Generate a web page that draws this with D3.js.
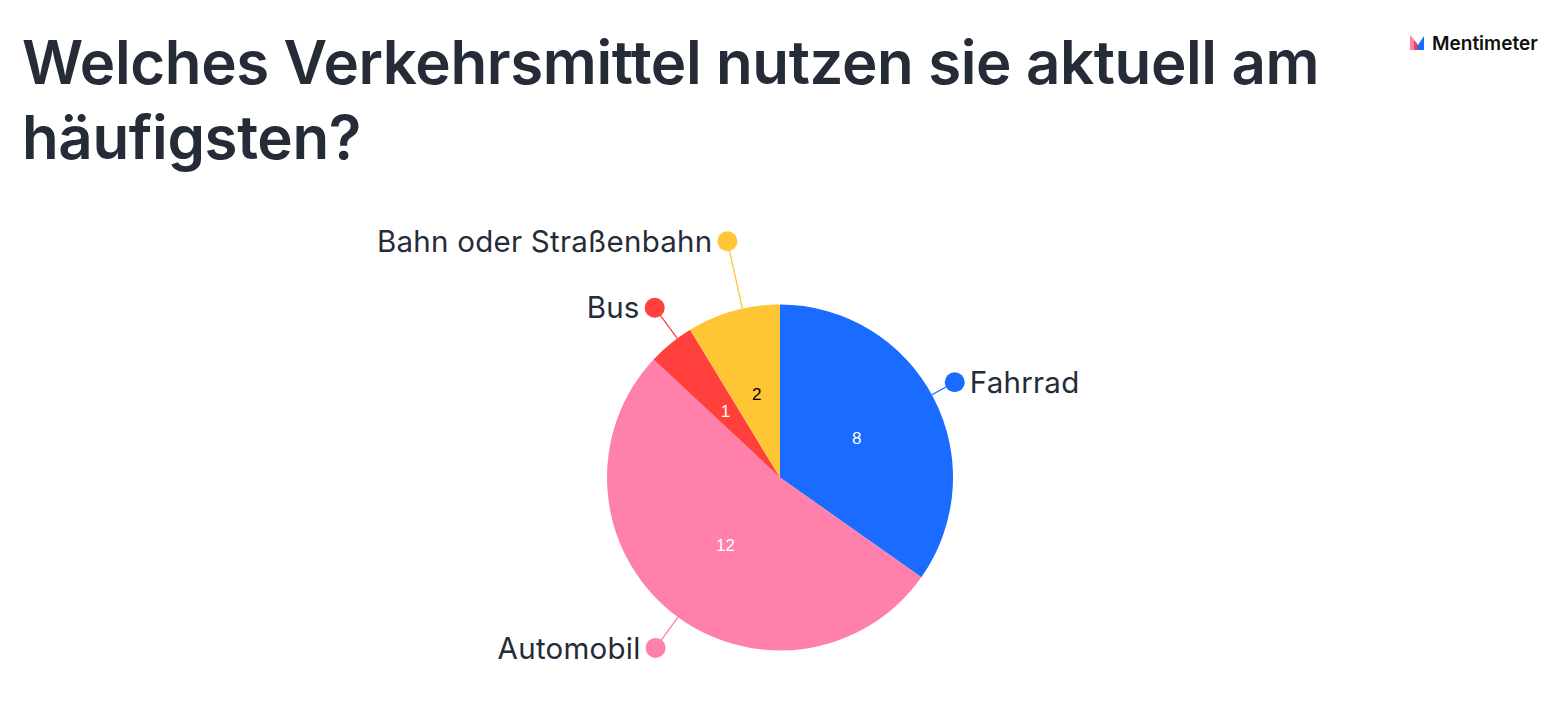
<!DOCTYPE html>
<html><head><meta charset="utf-8">
<script src="https://cdn.jsdelivr.net/npm/d3@7"></script>
<style>html,body{margin:0;padding:0;background:#fff;}svg{display:block;}</style>
</head><body>
<svg id="chart" width="1560" height="708"></svg>
<script>
const titleLines = ["Welches Verkehrsmittel nutzen sie aktuell am", "häufigsten?"];
const categories = ["Fahrrad", "Automobil", "Bus", "Bahn oder Straßenbahn"];
const values = [8, 12, 1, 2];
const colors = ["#196cff", "#ff80ab", "#ff403d", "#ffc535"];
const valueTextColors = ["#ffffff", "#ffffff", "#ffffff", "#000000"];
// label leader layout: angle offset (deg) from slice middle, dot radius
const leaderAngleOffset = [-1.2, -3, 2.7, 3.1];
const leaderRadius = [199, 211, 211, 242];

const svg = d3.select("#chart");
const ink = "#262b38";

svg.append("g").selectAll("text").data(titleLines).join("text")
  .attr("x", 22).attr("y", (d, i) => 84 + i * 75)
  .attr("font-family", "Inter, 'Open Sans', sans-serif")
  .attr("font-weight", 600).attr("font-size", 60)
  .attr("letter-spacing", -0.38)
  .attr("fill", ink).text(d => d);

// logo
const logo = svg.append("g").attr("transform", "translate(1410,35)");
logo.append("path").attr("d", "M0,0 L7,8 L7,15 L0,15 Z").attr("fill", "#ff80ab");
logo.append("path").attr("d", "M4,15 L4,6 L8,10 L14,1 L14,15 Z").attr("fill", "#196cff");
logo.append("path").attr("d", "M4,15 L4,6 L7,9 L7,15 Z").attr("fill", "#ff403d");
svg.append("text").attr("x", 1432).attr("y", 50)
  .attr("font-family", "Inter, sans-serif").attr("font-weight", 600)
  .attr("font-size", 19).attr("fill", "#101010").text("Mentimeter");

const cx = 780, cy = 477.5, r = 173;
const g = svg.append("g").attr("transform", `translate(${cx},${cy})`);
const pie = d3.pie().sort(null).value(d => d)(values);
const arc = d3.arc().innerRadius(0).outerRadius(r);
const labelArc = d3.arc().innerRadius(r * 0.5).outerRadius(r * 0.5);

g.selectAll("path.slice").data(pie).join("path").attr("class", "slice")
  .attr("d", arc).attr("fill", (d, i) => colors[i]);

g.selectAll("text.val").data(pie).join("text").attr("class", "val")
  .attr("transform", d => `translate(${labelArc.centroid(d)})`)
  .attr("text-anchor", "middle").attr("dy", "0.36em")
  .attr("font-family", "'Liberation Sans', Arial, sans-serif")
  .attr("font-size", 17).attr("fill", (d, i) => valueTextColors[i])
  .text(d => d.data);

const toRad = Math.PI / 180;
const lab = g.selectAll("g.lab").data(pie).join("g").attr("class", "lab");
lab.each(function(d, i) {
  const a = (d.startAngle + d.endAngle) / 2 + leaderAngleOffset[i] * toRad;
  const R = leaderRadius[i];
  const x0 = Math.sin(a) * r, y0 = -Math.cos(a) * r;
  const x1 = Math.sin(a) * R, y1 = -Math.cos(a) * R;
  const sel = d3.select(this);
  sel.append("line").attr("x1", x0).attr("y1", y0).attr("x2", x1).attr("y2", y1)
    .attr("stroke", colors[i]).attr("stroke-width", 1.3);
  sel.append("circle").attr("cx", x1).attr("cy", y1).attr("r", 10).attr("fill", colors[i]);
  const right = x1 > 0;
  sel.append("text").attr("x", x1 + (right ? 15 : -15)).attr("y", y1)
    .attr("dy", "0.36em").attr("text-anchor", right ? "start" : "end")
    .attr("font-family", "Inter, 'Open Sans', sans-serif")
    .attr("font-size", 29.5).attr("letter-spacing", 0.25).attr("fill", ink)
    .text(categories[i]);
});
</script>
</body></html>
